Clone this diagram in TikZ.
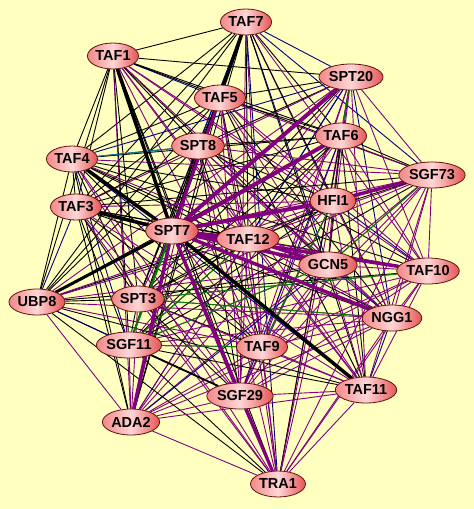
\documentclass[tikz,border=0pt]{standalone}
\usepackage{fontspec}
\setmainfont{Liberation Sans}
\usetikzlibrary{shapes.geometric,backgrounds}
\definecolor{paper}{RGB}{255,255,192}
\definecolor{genemid}{RGB}{255,214,214}
\definecolor{geneleft}{RGB}{243,136,136}
\definecolor{generight}{RGB}{230,84,84}
\definecolor{geneline}{RGB}{100,15,15}
\definecolor{lpurple}{RGB}{128,0,128}
\definecolor{lnavy}{RGB}{0,0,128}
\definecolor{lgreen}{RGB}{0,128,0}
\definecolor{lteal}{RGB}{0,128,128}

% name/group (0 = TFIID side, 1 = SAGA side)
\def\genes{taf7/0, taf1/0, spt20/1, taf5/0, taf6/0, spt8/0, taf4/0, sgf73/1,
  hfi1/1, taf3/0, spt7/1, taf12/1, gcn5/1, taf10/1, ubp8/0, spt3/0, ngg1/1,
  sgf11/0, taf9/1, taf11/1, sgf29/1, ada2/1, tra1/1}

\begin{document}
\begin{tikzpicture}[x=1pt, y=-1pt,
  gene/.style={ellipse, draw=geneline, line width=0.8pt,
    left color=geneleft, right color=generight, middle color=genemid,
    inner xsep=0.5pt, inner ysep=0pt, minimum height=26pt,
    font=\fontsize{14.5}{16}\selectfont\bfseries},
  link/.style={line width=0.9pt},
  bundle/.style={line width=3.5pt, line cap=round}
]
\useasboundingbox (0,0) rectangle (474,509);

% Proteins
\foreach \n/\t/\x/\y in {taf7/TAF7/246/22, taf1/TAF1/113/56, spt20/SPT20/351/77,
    taf5/TAF5/220/98, taf6/TAF6/341/136, spt8/SPT8/198/146, taf4/TAF4/72/159,
    sgf73/SGF73/432/175, hfi1/HFI1/333/201, taf3/TAF3/76/207, spt7/SPT7/172/231,
    taf12/TAF12/248/239, gcn5/GCN5/328/265, taf10/TAF10/428/271,
    ubp8/UBP8/37/302, spt3/SPT3/138/299, ngg1/NGG1/392/318,
    sgf11/SGF11/129/345, taf9/TAF9/262/347, taf11/TAF11/366/390,
    sgf29/SGF29/240/396, ada2/ADA2/131/422, tra1/TRA1/278/484}
  \node[gene] (\n) at (\x,\y) {\t};

\begin{scope}[on background layer]
\fill[paper] (0,0) rectangle (474,509);

% Thin interactions
\foreach \a/\ga [count=\i] in \genes {
  \foreach \b/\gb [count=\j] in \genes {
    \ifnum\j>\i
      \pgfmathtruncatemacro\k{mod(\i*7+\j*4,10)}
      \pgfmathtruncatemacro\s{\ga+\gb}
      \def\col{black}
      \ifcase\s
        \ifnum\k<2 \def\col{lnavy}\fi
      \or
        \ifnum\k<5 \def\col{lpurple}\else\ifnum\k=9 \def\col{lnavy}\fi\fi
      \else
        \ifnum\k<9 \def\col{lpurple}\else\def\col{lnavy}\fi
      \fi
      \draw[link, \col] (\a) -- (\b);
    \fi
  }
}

% A few green ones
\foreach \a/\b in {spt20/taf6, sgf73/gcn5, hfi1/taf9, sgf11/taf9, spt3/ngg1,
    taf12/sgf11, spt3/taf10, gcn5/sgf11}
  \draw[link, lgreen] (\a) -- (\b);
\draw[link, lteal] (taf4) -- (spt8);

% Heavy bundles
\foreach \a/\b/\w in {taf1/spt7/3.5, taf4/spt7/3.5, taf3/spt7/3.5,
    ubp8/spt7/3, spt7/taf11/3.5, taf7/spt7/3.5, sgf11/sgf29/1.8}
  \draw[bundle, line width=\w pt, black] (\a) -- (\b);
\foreach \a/\b/\w in {spt7/spt20/4, spt7/taf6/4, spt7/hfi1/4, spt7/taf12/4,
    spt7/gcn5/3.5, spt7/ngg1/3.5, spt7/taf10/3.5, hfi1/sgf73/3.5,
    spt7/sgf29/3.5, sgf29/tra1/3, spt7/ada2/3.5, taf12/gcn5/3,
    spt7/tra1/2.5, taf5/spt7/3}
  \draw[bundle, line width=\w pt, lpurple] (\a) -- (\b);
\draw[bundle, line width=2pt, lgreen] (sgf11) -- (spt7);
\end{scope}
\end{tikzpicture}
\end{document}
